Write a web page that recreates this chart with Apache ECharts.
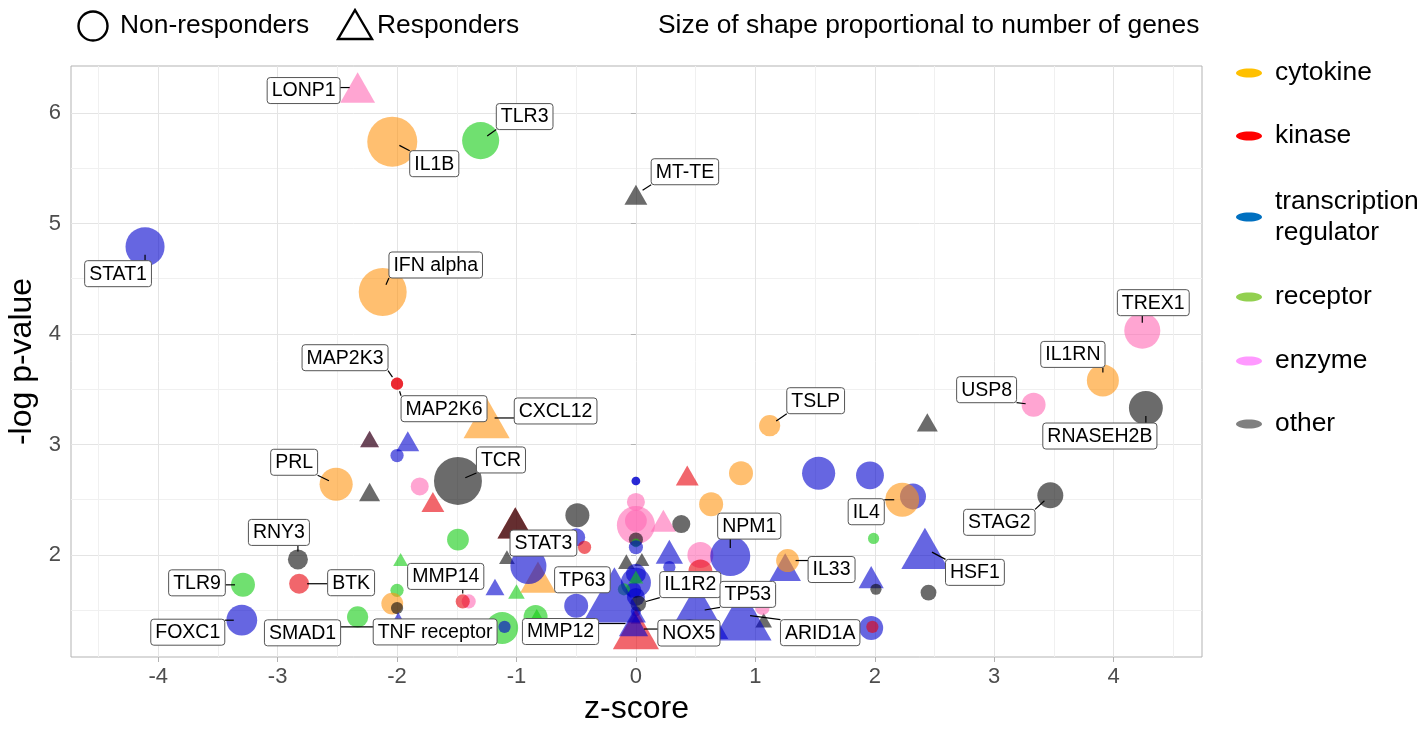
<!DOCTYPE html>
<html><head><meta charset="utf-8">
<script src="https://cdn.jsdelivr.net/npm/echarts@6/dist/echarts.min.js"></script>
<style>html,body{margin:0;padding:0;background:#fff}#chart{width:1425px;height:729px}</style>
</head><body><div id="chart"></div>
<script>
// ---------- data ----------
const categories = ['cytokine', 'kinase', 'transcription regulator', 'receptor', 'enzyme', 'other'];
const legendTexts = ['cytokine', 'kinase', 'transcription\nregulator', 'receptor', 'enzyme', 'other'];
const groups = ['Non-responders', 'Responders'];   // 0 = circle, 1 = triangle
const sizeNote = 'Size of shape proportional to number of genes';
const xTicks = [-4, -3, -2, -1, 0, 1, 2, 3, 4];
const xMinorTicks = [-4.5, -3.5, -2.5, -1.5, -0.5, 0.5, 1.5, 2.5, 3.5, 4.5];
const yTicks = [2, 3, 4, 5, 6];
const yMinorTicks = [1.5, 2.5, 3.5, 4.5, 5.5];

// category index: 0 cytokine, 1 kinase, 2 transcription regulator, 3 receptor, 4 enzyme, 5 other
const pointLabel = [
  '', '', '', '', '', '', '', '', '', '', '', '', '', '', '', '', '', '', '', '', '', '', '', '', '', '', '',
  '', '', '', '', '', '', '', '', '', '', '', '', '', '', '', '', '',
  '', '', '', '', '', '', '', '', '', '', '', '', '', '', '', '', '', '', '', '', '', '', '', '', '',
  'LONP1', 'IL1B', 'TLR3', 'MT-TE', 'STAT1', 'IFN alpha', 'MAP2K3', 'MAP2K6', 'CXCL12', 'TSLP',
  'TREX1', 'IL1RN', 'USP8', 'RNASEH2B', 'PRL', 'TCR', 'STAG2', 'IL4', 'HSF1', 'NPM1',
  'IL33', 'RNY3', 'BTK', 'TLR9', 'FOXC1', 'TNF receptor', 'SMAD1', 'NOX5', 'MMP12', 'IL1R2',
  'TP63', 'TP53', 'ARID1A', 'STAT3', 'MMP14'
];
const pointZ = [
  -2.23, -2.23, -1.91, -2.00, -1.81, -2.23, -1.70, -1.49, -1.01, -1.01, -0.49, -0.50, -0.43, -1.08, -1.97, -2.00, -2.04, -2.00, -1.99, -1.18, -1.00, -0.84, -0.83, -0.50, -2.33, -0.82, -1.40,
  0.00, 0.00, 0.00, 0.00, 0.00, 0.00, 0.00, 0.00, -0.08, 0.05, 0.00, 0.00, -0.02, -0.10, 0.00, 0.00, 0.00,
  0.00, 0.43, 0.88, 1.53, 1.96, 0.63, 0.23, 0.38, 0.28, 0.28, 0.54, 0.54, 1.25, 1.99, 1.97, 2.01, 2.45, 1.97, 1.98, 1.07, 1.06, 0.45, 0.45, 2.32, 2.44,
  -2.33, -2.04, -1.30, 0.00, -4.11, -2.12, -2.00, -2.00, -1.25, 1.12,
  4.24, 3.91, 3.33, 4.27, -2.51, -1.49, 3.47, 2.23, 2.42, 0.79,
  1.27, -2.83, -2.82, -3.29, -3.30, -1.12, -1.10, 0.00, -0.02, 0.02,
  -0.18, 0.51, 0.89, -0.90, -1.45
];
const pointP = [
  3.05, 3.05, 3.03, 2.90, 2.62, 2.57, 2.48, 2.14, 2.29, 2.29, 2.36, 2.16, 2.07, 1.98, 1.96, 1.68, 1.56, 1.52, 1.44, 1.71, 1.67, 1.44, 1.47, 1.54, 1.44, 1.80, 1.58,
  2.67, 2.67, 2.48, 2.27, 2.31, 2.14, 2.11, 2.07, 1.94, 1.96, 1.83, 1.75, 1.68, 1.69, 1.80, 1.49, 1.42,
  1.62, 2.72, 2.74, 2.74, 2.72, 2.46, 2.31, 2.28, 2.03, 1.89, 2.00, 1.85, 1.89, 2.15, 1.80, 1.69, 1.66, 1.34, 1.35, 1.41, 1.52, 1.34, 1.34, 2.53, 3.20,
  6.23, 5.74, 5.75, 5.26, 4.79, 4.38, 3.55, 3.55, 3.24, 3.17,
  4.03, 3.58, 3.36, 3.33, 2.64, 2.67, 2.54, 2.50, 2.06, 1.99,
  1.95, 1.96, 1.74, 1.73, 1.41, 1.34, 1.35, 1.33, 1.38, 1.56,
  1.64, 1.49, 1.46, 1.90, 1.58
];
const pointGenes = [
  13, 13, 19, 7, 13, 16, 19, 19, 46, 46, 23, 13, 7, 9, 8, 7, 19, 6, 4, 13, 10, 23, 4, 23, 18, 46, 8,
  3, 3, 13, 58, 19, 8, 3, 8, 10, 8, 16, 36, 10, 6, 8, 4, 4,
  13, 19, 23, 44, 31, 23, 23, 13, 27, 6, 27, 23, 36, 5, 23, 5, 10, 23, 6, 10, 8, 13, 6, 27, 16,
  44, 100, 55, 19, 61, 92, 6, 6, 77, 18,
  52, 41, 23, 46, 44, 92, 27, 46, 81, 64,
  21, 16, 16, 23, 38, 41, 6, 77, 31, 10,
  144, 144, 125, 52, 8
];
const pointCat = [
  4, 5, 2, 2, 4, 5, 1, 3, 1, 5, 5, 2, 1, 5, 3, 3, 0, 5, 2, 2, 3, 3, 3, 2, 3, 0, 4,
  2, 2, 4, 4, 4, 5, 3, 2, 5, 5, 2, 2, 2, 3, 3, 2, 2,
  2, 1, 0, 2, 2, 0, 4, 5, 2, 2, 4, 1, 2, 3, 2, 5, 5, 2, 1, 5, 4, 2, 2, 2, 5,
  4, 0, 3, 5, 2, 0, 1, 1, 0, 0,
  4, 0, 4, 5, 0, 5, 5, 0, 2, 2,
  0, 5, 1, 3, 2, 3, 2, 1, 2, 5,
  2, 2, 2, 2, 1
];
const pointGroup = [
  1, 1, 1, 0, 0, 1, 1, 0, 1, 1, 0, 0, 0, 1, 1, 0, 0, 0, 1, 1, 1, 0, 1, 0, 0, 1, 0,
  0, 0, 0, 0, 0, 0, 0, 0, 1, 1, 0, 0, 0, 0, 1, 0, 1,
  0, 1, 0, 0, 0, 0, 1, 0, 1, 0, 0, 0, 1, 0, 1, 0, 0, 0, 0, 1, 0, 0, 0, 0, 1,
  1, 0, 0, 1, 0, 0, 0, 0, 1, 0,
  0, 0, 0, 0, 0, 0, 0, 0, 1, 0,
  0, 0, 0, 0, 0, 0, 0, 1, 1, 0,
  1, 1, 1, 0, 0
];

// ---------- layout / style (not data) ----------
const pointColors = ['#FF9411', '#E8000A', '#0000CD', '#10CC10', '#FF69B4', '#080808'];
const legendColors = ['#FFC000', '#FF0000', '#0070C0', '#92D050', '#FF99FF', '#808080'];
const legendY = [73, 136, 217, 297, 361, 424];
// label box centre offset from point (px)
const labelOffsets = {
  'LONP1': [-54, 3], 'IL1B': [42, 22], 'TLR3': [44, -24], 'MT-TE': [49, -23], 'STAT1': [-27, 27],
  'IFN alpha': [53, -27], 'MAP2K3': [-52, -26], 'MAP2K6': [47, 25], 'CXCL12': [69, -7], 'TSLP': [46, -25],
  'TREX1': [11, -28], 'IL1RN': [-30, -26], 'USP8': [-47, -15], 'RNASEH2B': [-46, 28], 'PRL': [-42, -22],
  'TCR': [43, -21], 'STAG2': [-51, 27], 'IL4': [-36, 12], 'HSF1': [50, 24], 'NPM1': [19, -30],
  'IL33': [44, 9], 'RNY3': [-19, -27], 'BTK': [52, -1], 'TLR9': [-46, -2], 'FOXC1': [-54, 12],
  'SMAD1': [-202, 6], 'TNF receptor': [-67, 4], 'MMP12': [-73, 8], 'NOX5': [53, 4], 'IL1R2': [52, -19],
  'TP63': [-32, -15], 'TP53': [51, -17], 'ARID1A': [78, 18], 'STAT3': [15, -23], 'MMP14': [-17, -25]
};
const FONT = '"Liberation Sans", Arial, Helvetica, sans-serif';
const LABEL_SIZE = 19.5, PAD_X = 4.5, BOX_H = 26;
const mctx = document.createElement('canvas').getContext('2d');
function textWidth(s, size) { mctx.font = size + 'px ' + FONT; return mctx.measureText(s).width; }

const scatterData = pointZ.map((z, i) => {
  const s = 5 * Math.sqrt(pointGenes[i]);
  const tri = pointGroup[i] === 1;
  return {
    value: [z, pointP[i]],
    symbol: tri ? 'triangle' : 'circle',
    symbolSize: tri ? [s * 1.05, s * 0.92] : s,
    itemStyle: { color: pointColors[pointCat[i]], opacity: 0.6 }
  };
});
const labelData = [];
pointLabel.forEach((l, i) => { if (l) labelData.push([pointZ[i], pointP[i], i]); });

function boxOf(i, c) {
  const name = pointLabel[i];
  const off = labelOffsets[name] || [0, -20];
  const w = textWidth(name, LABEL_SIZE) + 2 * PAD_X;
  return { cx: c[0] + off[0], cy: c[1] + off[1], x: c[0] + off[0] - w / 2, y: c[1] + off[1] - BOX_H / 2, w: w, h: BOX_H };
}

const chart = echarts.init(document.getElementById('chart'), null, { renderer: 'canvas' });

const graphics = [
  { type: 'circle', shape: { cx: 93, cy: 26, r: 14.5 }, style: { fill: 'none', stroke: '#000', lineWidth: 2.4 } },
  { type: 'text', style: { x: 120, y: 26, text: groups[0], fontSize: 26.4, fontFamily: FONT, fill: '#000', align: 'left', verticalAlign: 'middle' } },
  { type: 'polygon', shape: { points: [[355, 10], [372, 39], [338, 39]] }, style: { fill: 'none', stroke: '#000', lineWidth: 2.4 } },
  { type: 'text', style: { x: 377, y: 26, text: groups[1], fontSize: 26.4, fontFamily: FONT, fill: '#000', align: 'left', verticalAlign: 'middle' } },
  { type: 'text', style: { x: 658, y: 26, text: sizeNote, fontSize: 26.4, fontFamily: FONT, fill: '#000', align: 'left', verticalAlign: 'middle' } }
];
categories.forEach((c, k) => {
  graphics.push({ type: 'ellipse', shape: { cx: 1249, cy: legendY[k], rx: 13, ry: 4.6 }, style: { fill: legendColors[k] } });
  graphics.push({ type: 'text', style: { x: 1275, y: legendY[k], text: legendTexts[k], fontSize: 26.4, lineHeight: 31, fontFamily: FONT, fill: '#000', align: 'left', verticalAlign: 'middle' } });
});

const axisCommon = {
  type: 'value',
  axisLine: { show: false }
};

chart.setOption({
  animation: false,
  backgroundColor: '#fff',
  grid: { left: 71, right: 223, top: 66, bottom: 72, show: true, borderColor: '#b3b3b3', borderWidth: 1, backgroundColor: '#fff', outerBoundsMode: 'none' },
  xAxis: [
    Object.assign({}, axisCommon, {
      min: -4.73, max: 4.74,
      axisTick: { show: true, length: 5, lineStyle: { color: '#b3b3b3' }, customValues: xTicks },
      axisLabel: { customValues: xTicks, color: '#4d4d4d', fontSize: 22, margin: 9, fontFamily: FONT },
      splitLine: { show: true, lineStyle: { color: '#e4e4e4', width: 1 } },
      name: 'z-score', nameLocation: 'middle', nameGap: 36,
      nameTextStyle: { fontSize: 32, color: '#000', fontFamily: FONT }
    }),
    Object.assign({}, axisCommon, {
      min: -4.73, max: 4.74, position: 'bottom',
      axisTick: { show: false, customValues: xMinorTicks },
      axisLabel: { show: false, customValues: xMinorTicks },
      splitLine: { show: true, lineStyle: { color: '#f0f0f0', width: 1 } }
    })
  ],
  yAxis: [
    Object.assign({}, axisCommon, {
      min: 1.077, max: 6.425,
      axisTick: { show: true, length: 5, lineStyle: { color: '#b3b3b3' }, customValues: yTicks },
      axisLabel: { customValues: yTicks, color: '#4d4d4d', fontSize: 22, margin: 10, fontFamily: FONT },
      splitLine: { show: true, lineStyle: { color: '#e4e4e4', width: 1 } },
      name: '-log p-value', nameLocation: 'middle', nameGap: 33,
      nameTextStyle: { fontSize: 32, color: '#000', fontFamily: FONT }
    }),
    Object.assign({}, axisCommon, {
      min: 1.077, max: 6.425, position: 'left',
      axisTick: { show: false, customValues: yMinorTicks },
      axisLabel: { show: false, customValues: yMinorTicks },
      splitLine: { show: true, lineStyle: { color: '#f0f0f0', width: 1 } }
    })
  ],
  series: [
    {
      type: 'scatter', xAxisIndex: 0, yAxisIndex: 0, z: 2, silent: true,
      data: scatterData
    },
    {
      type: 'custom', coordinateSystem: 'cartesian2d', xAxisIndex: 0, yAxisIndex: 0, z: 3, silent: true,
      data: labelData, encode: { x: 0, y: 1 },
      renderItem: function (params, api) {
        const i = api.value(2);
        const c = api.coord([api.value(0), api.value(1)]);
        const b = boxOf(i, c);
        const ex = Math.max(b.x, Math.min(c[0], b.x + b.w));
        const ey = Math.max(b.y, Math.min(c[1], b.y + b.h));
        const dx = ex - c[0], dy = ey - c[1];
        const L = Math.hypot(dx, dy);
        if (L < 12) return { type: 'group', children: [] };
        const st = 8;
        return {
          type: 'line',
          shape: { x1: c[0] + dx / L * st, y1: c[1] + dy / L * st, x2: ex, y2: ey },
          style: { stroke: '#000', lineWidth: 1.2 }
        };
      }
    },
    {
      type: 'custom', coordinateSystem: 'cartesian2d', xAxisIndex: 0, yAxisIndex: 0, z: 4, silent: true,
      data: labelData, encode: { x: 0, y: 1 },
      renderItem: function (params, api) {
        const i = api.value(2);
        const c = api.coord([api.value(0), api.value(1)]);
        const b = boxOf(i, c);
        return {
          type: 'group',
          children: [
            { type: 'rect', shape: { x: b.x, y: b.y, width: b.w, height: b.h, r: 3 }, style: { fill: '#fff', stroke: '#555', lineWidth: 1 } },
            { type: 'text', style: { x: b.cx, y: b.cy + 0.5, text: pointLabel[i], fontSize: LABEL_SIZE, fontFamily: FONT, fill: '#000', align: 'center', verticalAlign: 'middle' } }
          ]
        };
      }
    }
  ],
  graphic: graphics
});
</script>
</body></html>
